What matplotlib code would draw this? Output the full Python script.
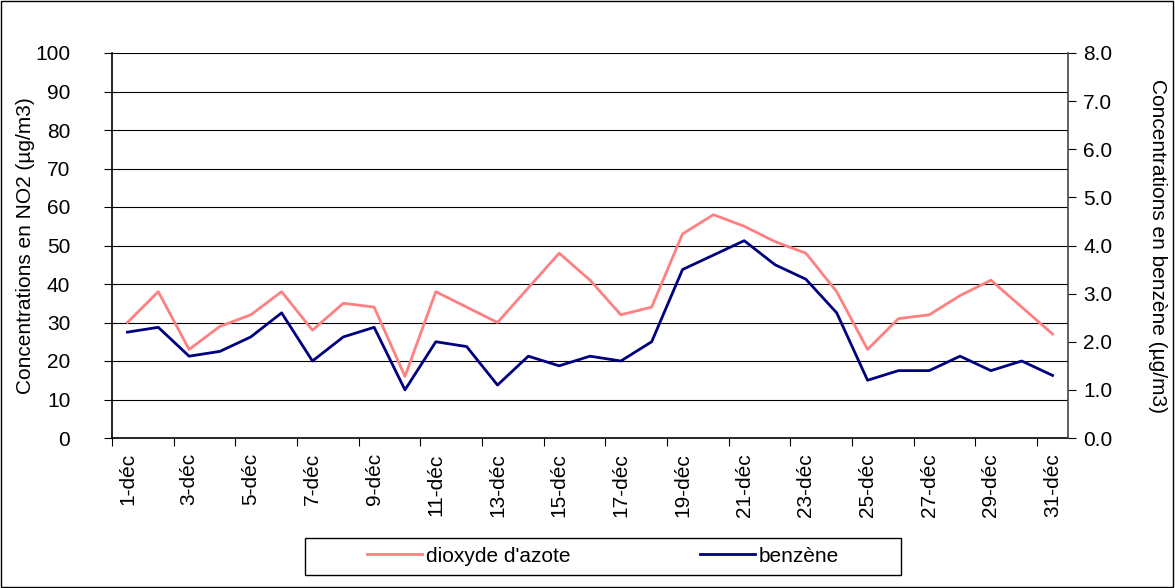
import matplotlib
matplotlib.use("Agg")
import matplotlib.pyplot as plt
from matplotlib.patches import Rectangle
from matplotlib.ticker import FixedLocator, FormatStrFormatter

plt.rcParams["font.family"] = ["Liberation Sans", "DejaVu Sans"]
plt.rcParams["font.size"] = 15

# Data
days = [f"{d}-déc" for d in range(1, 32)]
no2 = [30, 38, 23, 29, 32, 38, 28, 35, 34, 16,
       38, 34, 30, 39, 48, 41, 32, 34, 53, 58,
       55, 51, 48, 38, 23, 31, 32, 37, 41, 34, 27]
benzene = [2.2, 2.3, 1.7, 1.8, 2.1, 2.6, 1.6, 2.1, 2.3, 1.0,
           2.0, 1.9, 1.1, 1.7, 1.5, 1.7, 1.6, 2.0, 3.5, 3.8,
           4.1, 3.6, 3.3, 2.6, 1.2, 1.4, 1.4, 1.7, 1.4, 1.6, 1.3]

no2_color = "#FF8080"
benz_color = "#000080"

W, H = 1175, 588
fig = plt.figure(figsize=(W / 100, H / 100), dpi=100)
ax = fig.add_axes([112 / W, 1 - 438 / H, (1068 - 112) / W, (438 - 53) / H])
ax2 = ax.twinx()

x = [i + 0.5 for i in range(len(days))]
l1, = ax.plot(x, no2, color=no2_color, lw=2, label="dioxyde d'azote")
l2, = ax2.plot(x, benzene, color=benz_color, lw=2, label="benzène")

ax.set_xlim(0, len(days))
ax.set_ylim(0, 100)
ax2.set_ylim(0, 8)

ax.set_yticks(range(0, 101, 10))
ax2.set_yticks([i * 1.0 for i in range(9)])
ax2.yaxis.set_major_formatter(FormatStrFormatter("%.1f"))

# category axis: tick marks every 2 boundaries, labels on odd days
ax.xaxis.set_major_locator(FixedLocator(list(range(0, 32, 2))))
ax.set_xticklabels([])
ax.xaxis.set_minor_locator(FixedLocator([x[i] for i in range(0, 31, 2)]))
ax.set_xticklabels([days[i] for i in range(0, 31, 2)], minor=True, rotation=90)
ax.tick_params(axis="x", which="minor", length=0, pad=11)
ax.tick_params(axis="x", which="major", length=6, direction="out", color="black")

ax.grid(axis="y", color="black", lw=0.8)
ax.set_axisbelow(True)
ax.tick_params(axis="y", length=6, direction="out", pad=24)
ax2.tick_params(axis="y", length=6, direction="out", pad=5)

for a in (ax, ax2):
    a.spines["top"].set_visible(False)
ax.spines["right"].set_visible(False)
ax2.spines["left"].set_visible(False)
ax2.spines["bottom"].set_visible(False)
ax.spines["left"].set_linewidth(1.2)
ax.spines["bottom"].set_linewidth(1.2)
ax2.spines["right"].set_color("#444444")
ax2.spines["right"].set_linewidth(1.2)

ax.set_ylabel("Concentrations en NO2 (µg/m3)", va="center", ha="center")
ax.yaxis.set_label_coords((26 - 112) / 956, (438 - 246) / 385)
ax2.set_ylabel("Concentrations en benzène (µg/m3)", rotation=-90,
               va="center", ha="center")
ax2.yaxis.set_label_coords((1158 - 112) / 956, (438 - 246) / 385)

leg = fig.legend(handles=[l1, l2], loc="center", ncol=2,
                 bbox_to_anchor=(603 / W, 1 - 556 / H),
                 frameon=False, handlelength=2.65, columnspacing=6.2,
                 handletextpad=0.2)
# legend frame drawn separately (wider than the items)
fig.patches.append(Rectangle((305 / W, 1 - 575 / H), 596 / W, 37 / H,
                             transform=fig.transFigure, fill=False,
                             edgecolor="black", lw=1))

fig.patches.append(Rectangle((0.001, 0.002), 0.997, 0.996, transform=fig.transFigure,
                             fill=False, edgecolor="black", lw=1))

fig.savefig("out.png", dpi=100)
